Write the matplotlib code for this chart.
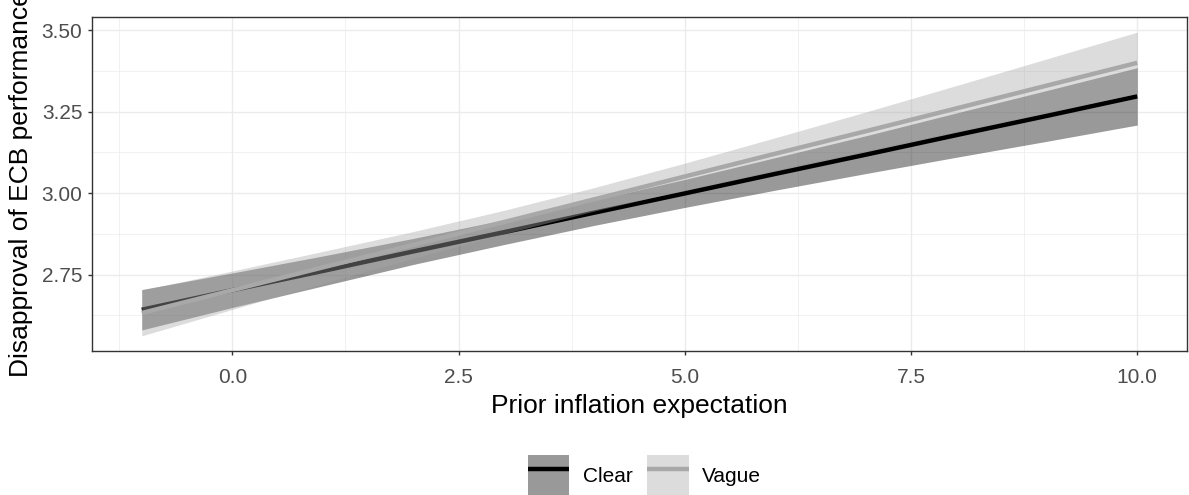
import matplotlib

matplotlib.use("Agg")
import matplotlib.pyplot as plt
from matplotlib.legend_handler import HandlerTuple
from matplotlib.lines import Line2D
from matplotlib.patches import Patch

plt.rcParams["font.family"] = ["Liberation Sans", "DejaVu Sans"]

# fitted values and confidence band, read at whole-number x positions
prior_expectation = [-1, 0, 1, 2, 3, 4, 5, 6, 7, 8, 9, 10]

clear_fit = [2.642, 2.702, 2.761, 2.821, 2.880, 2.940, 2.999, 3.059, 3.118, 3.178, 3.237, 3.297]
clear_low = [2.580, 2.649, 2.715, 2.781, 2.842, 2.901, 2.956, 3.009, 3.060, 3.110, 3.159, 3.209]
clear_high = [2.704, 2.755, 2.807, 2.861, 2.918, 2.979, 3.042, 3.109, 3.176, 3.246, 3.315, 3.385]

vague_fit = [2.632, 2.702, 2.772, 2.841, 2.911, 2.981, 3.051, 3.121, 3.190, 3.260, 3.330, 3.400]
vague_low = [2.562, 2.643, 2.723, 2.800, 2.875, 2.945, 3.010, 3.072, 3.131, 3.190, 3.248, 3.306]
vague_high = [2.702, 2.761, 2.821, 2.882, 2.947, 3.017, 3.092, 3.170, 3.249, 3.330, 3.412, 3.494]

groups = ["Clear", "Vague"]
group_colours = ["#000000", "#a8a8a8"]

x_ticks = [0.0, 2.5, 5.0, 7.5, 10.0]
y_ticks = [2.75, 3.00, 3.25, 3.50]

W, H = 1189, 495
fig = plt.figure(figsize=(W / 100, H / 100), dpi=100)
ax = fig.add_axes([92 / W, 1 - 351 / H, (1187 - 92) / W, (351 - 17) / H])

series = [
    (clear_fit, clear_low, clear_high),
    (vague_fit, vague_low, vague_high),
]

# ribbon then line for each group, in group order
for (fit, low, high), col in zip(series, group_colours):
    ax.fill_between(prior_expectation, low, high, color=col, alpha=0.4,
                    linewidth=0, zorder=3)
    ax.plot(prior_expectation, fit, color=col, linewidth=3.2,
            solid_capstyle="butt", zorder=3)

# axis limits with 5% expansion on each side
xr = max(prior_expectation) - min(prior_expectation)
ax.set_xlim(min(prior_expectation) - 0.05 * xr, max(prior_expectation) + 0.05 * xr)
ymin = min(vague_low + clear_low)
ymax = max(vague_high + clear_high)
yr = ymax - ymin
ax.set_ylim(ymin - 0.05 * yr, ymax + 0.05 * yr)

ax.set_xticks(x_ticks)
ax.set_xticklabels([f"{v:.1f}" for v in x_ticks])
ax.set_yticks(y_ticks)
ax.set_yticklabels([f"{v:.2f}" for v in y_ticks])
ax.set_xticks([-1.25, 1.25, 3.75, 6.25, 8.75], minor=True)
ax.set_yticks([2.625, 2.875, 3.125, 3.375], minor=True)

ax.grid(True, which="major", color="#ebebeb", linewidth=1.0, zorder=0)
ax.grid(True, which="minor", color="#ebebeb", linewidth=0.5, zorder=0)
ax.set_axisbelow(True)

for sp in ax.spines.values():
    sp.set_color("#333333")
    sp.set_linewidth(1.0)

ax.tick_params(which="major", length=3, width=1.0, color="#333333",
               labelcolor="#4d4d4d", labelsize=15, pad=4)
ax.tick_params(axis="x", which="major", pad=9.5)
ax.tick_params(which="minor", length=0)

ax.set_xlabel("Prior inflation expectation", fontsize=19, labelpad=5)
ax.set_ylabel("Disapproval of ECB performance", fontsize=19, labelpad=6)

handles = [
    (Patch(facecolor=c, alpha=0.4, linewidth=0),
     Line2D([], [], color=c, linewidth=3.2, solid_capstyle="butt"))
    for c in group_colours
]
fig.legend(handles, groups, handler_map={tuple: HandlerTuple(ndivide=1, pad=0)},
           loc="center", bbox_to_anchor=(0.542, 1 - 476 / H), ncol=2, frameon=False,
           fontsize=15, handlelength=2.0, handleheight=2.7, handletextpad=0.65,
           columnspacing=0.7, borderpad=0)

fig.savefig("out.png", dpi=100)
